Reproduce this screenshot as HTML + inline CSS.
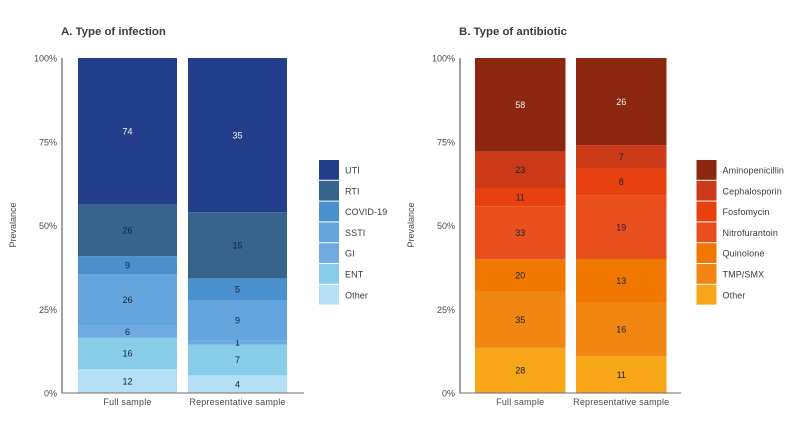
<!DOCTYPE html>
<html>
<head>
<meta charset="utf-8">
<style>
html,body{margin:0;padding:0;background:#fff;width:800px;height:433px;overflow:hidden}
svg{display:block;font-family:"Liberation Sans",sans-serif}
</style>
</head>
<body>
<svg id="chart" width="800" height="433" viewBox="0 0 800 433" xmlns="http://www.w3.org/2000/svg"></svg>
<script>
const groups = ["Full sample", "Representative sample"];
const yTicks = [0, 25, 50, 75, 100];
const infectionTypes = ["Other", "ENT", "GI", "SSTI", "COVID-19", "RTI", "UTI"];
const infectionFull = [12, 16, 6, 26, 9, 26, 74];
const infectionRepresentative = [4, 7, 1, 9, 5, 15, 35];
const infectionColors = ["#b5dff7", "#87cdea", "#6fabe0", "#63a5dc", "#4a90cd", "#36648c", "#233f8c"];
const antibioticTypes = ["Other", "TMP/SMX", "Quinolone", "Nitrofurantoin", "Fosfomycin", "Cephalosporin", "Aminopenicillin"];
const antibioticFull = [28, 35, 20, 33, 11, 23, 58];
const antibioticRepresentative = [11, 16, 13, 19, 8, 7, 26];
const antibioticColors = ["#f6a616", "#f18712", "#f07800", "#e94e1f", "#e8410f", "#cd3a17", "#8c2710"];

const svg = document.getElementById('chart');
const NS = 'http://www.w3.org/2000/svg';
const yTop = 58, yBottom = 393;
const y = pct => yBottom - (yBottom - yTop) * pct / 100;

function node(tag, attrs, text) {
  const el = document.createElementNS(NS, tag);
  for (const k in attrs) el.setAttribute(k, attrs[k]);
  if (text !== undefined) el.textContent = text;
  svg.appendChild(el);
  return el;
}

function panel(cfg) {
  const title = node('text', {x: cfg.axisX - 1, y: 35, 'font-size': 11.4, 'font-weight': 'bold', fill: '#3c3c3c'}, cfg.title);
  
  

  const yTitle = node('text', {x: 0, y: 0, 'font-size': 9, fill: '#4a4a4a', 'text-anchor': 'middle', transform: 'translate(' + (cfg.axisX - 46) + ',225) rotate(-90)'}, 'Prevalance');
  
  

  yTicks.forEach(t => {
    const lab = node('text', {x: cfg.axisX - 5, y: y(t) + 3.5, 'font-size': 9, fill: '#4a4a4a', 'text-anchor': 'end'}, t + '%');
    
    
  });

  cfg.series.forEach((vals, g) => {
    const total = vals.reduce((a, b) => a + b, 0);
    const x = cfg.barX[g];
    let cum = 0;
    vals.forEach((v, i) => {
      const y0 = y(cum / total * 100);
      const y1 = y((cum + v) / total * 100);
      const r = node('rect', {x: x, y: y1, width: cfg.barW, height: y0 - y1, fill: cfg.colors[i]});
      
      
      const dark = i === 6;
      const lab = node('text', {x: x + cfg.barW / 2, y: (y0 + y1) / 2 + 3.2, 'font-size': 9, 'text-anchor': 'middle', fill: dark ? '#f2f2f2' : '#14243a'}, String(v));
      
      
      cum += v;
    });
    const cat = node('text', {x: x + cfg.barW / 2, y: 405, 'font-size': 9, 'text-anchor': 'middle', fill: '#4a4a4a', 'letter-spacing': '0.2'}, groups[g]);
    
    
  });

  const ya = node('line', {x1: cfg.axisX, x2: cfg.axisX, y1: yTop, y2: yBottom + 0.5, stroke: '#6e6e6e', 'stroke-width': 1.3});
  
  
  const xa = node('line', {x1: cfg.axisX, x2: cfg.axisEnd, y1: yBottom, y2: yBottom, stroke: '#6e6e6e', 'stroke-width': 1.1});
  
  

  const n = cfg.types.length;
  for (let i = 0; i < n; i++) {
    const idx = n - 1 - i;
    const top = 160 + i * 20.8;
    const sw = node('rect', {x: cfg.legendX, y: top, width: 20, height: 19.8, fill: cfg.colors[idx]});
    
    
    const lt = node('text', {x: cfg.legendX + 26, y: top + 13.5, 'font-size': 9, fill: '#3c3c3c', 'letter-spacing': '0.1'}, cfg.types[idx]);
    
    
  }
}

panel({key: 'infection', title: 'A. Type of infection', axisX: 62, axisEnd: 304, barX: [78, 188], barW: 99,
  series: [infectionFull, infectionRepresentative], types: infectionTypes, colors: infectionColors, legendX: 319});
panel({key: 'antibiotic', title: 'B. Type of antibiotic', axisX: 460, axisEnd: 681, barX: [475, 576], barW: 90.5,
  series: [antibioticFull, antibioticRepresentative], types: antibioticTypes, colors: antibioticColors, legendX: 696.5});
</script>
</body>
</html>
